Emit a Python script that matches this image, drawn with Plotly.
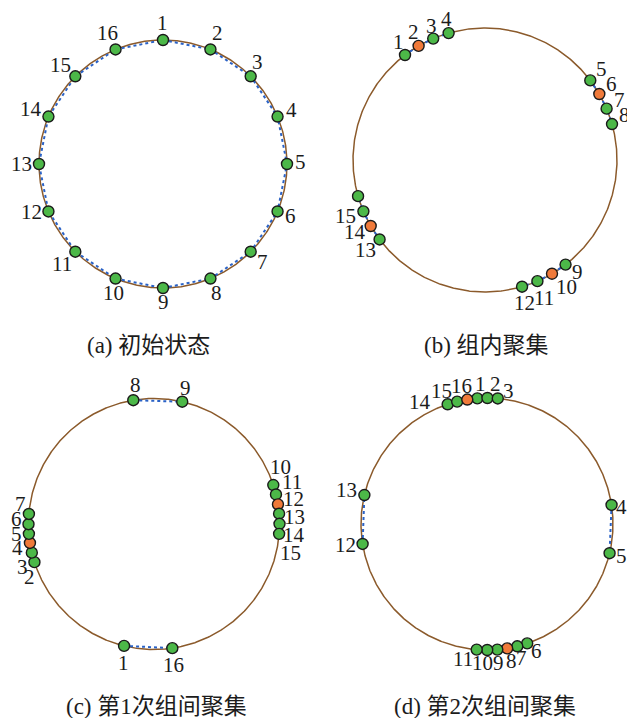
import numpy as np
import plotly.graph_objects as go

# ---- data -------------------------------------------------------------
# node ids 1..16; angles in degrees, clockwise from the top of the ring
NODE_IDS = list(range(1, 17))

ANGLES_A = [0, 22.5, 45, 67.5, 90, 112.5, 135, 157.5,
            180, 202.5, 225, 247.5, 270, 292.5, 315, 337.5]
ANGLES_B = [322.7, 329.8, 336.9, 344.0, 52.9, 60.0, 67.1, 74.2,
            142.4, 149.5, 156.6, 163.7, 233.0, 240.0, 247.1, 254.1]
ANGLES_C = [193.8, 252.3, 256.8, 261.3, 265.5, 269.9, 274.6, 350.5,
            13.0, 71.9, 76.4, 81.0, 85.3, 89.9, 94.5, 171.6]
ANGLES_D = [355.6, 0.2, 4.9, 81.3, 103.4, 161.4, 166.1, 170.8,
            175.3, 179.9, 184.7, 260.9, 283.3, 341.8, 346.3, 351.0]

# highlighted (group head) nodes
HEADS_A = []
HEADS_B = [2, 6, 10, 14]
HEADS_C = [4, 12]
HEADS_D = [8, 16]

# node chains joined by links
CHAINS_A = [[1, 2, 3, 4, 5, 6, 7, 8, 9, 10, 11, 12, 13, 14, 15, 16, 1]]
CHAINS_B = [[1, 2, 3, 4], [5, 6, 7, 8], [9, 10, 11, 12], [13, 14, 15, 16]]
CHAINS_C = [[8, 9], [10, 11, 12, 13, 14, 15], [2, 3, 4, 5, 6, 7], [1, 16]]
CHAINS_D = [[14, 15, 16, 1, 2, 3], [12, 13], [4, 5], [6, 7, 8, 9, 10, 11]]

# node labels (node 16 is left unlabelled in panel b)
LABELS_A = [str(i) for i in NODE_IDS]
LABELS_B = [str(i) for i in NODE_IDS[:15]] + [""]
LABELS_C = [str(i) for i in NODE_IDS]
LABELS_D = [str(i) for i in NODE_IDS]

CAPTIONS = ["(a) 初始状态", "(b) 组内聚集", "(c) 第1次组间聚集", "(d) 第2次组间聚集"]

# ---- layout -----------------------------------------------------------
W, H = 627, 718
K = 1.04  # axis half-range in ring radii

# ring centre / radius in pixels, caption centre in pixels
PANELS = [
    dict(cx=163, cy=164, r=124, cap=(148, 345)),
    dict(cx=485, cy=160, r=132, cap=(486, 345)),
    dict(cx=154, cy=524, r=125.5, cap=(156, 706)),
    dict(cx=487, cy=524, r=126, cap=(485, 706)),
]

# label offsets from each node, pixels (dx right, dy down)
NUDGE = [
    [(-1, -17), (7, -16), (7, -14), (14, -7), (13, -2), (13, 5), (12, 10), (6, 14),
     (0, 14), (-2, 14), (-13, 12), (-17, 1), (-17, 0), (-17, -8), (-15, -11), (-8, -16)],
    [(-7, -13), (-5, -14), (-2, -13), (-2, -14), (11, -11), (12, -10), (13, -9), (12, -9),
     (12, 7), (14, 13), (7, 17), (2, 16), (-14, 11), (-16, 6), (-18, 5), (0, 0)],
    [(-1, 17), (-5, 15), (-9, 14), (-12, 5), (-12, 0), (-12, -5), (-8, -10), (2, -15),
     (3, -14), (7, -18), (16, -12), (16, -5), (15, 3), (14, 11), (11, 19), (1, 17)],
    [(3, -14), (8, -14), (11, -7), (10, 2), (12, 3), (9, 8), (4, 12), (4, 13),
     (1, 13), (-5, 13), (-14, 9), (-17, 1), (-18, -5), (-28, -2), (-16, -11), (-6, -14)],
]

RING_COLOR = "#8b5a2b"
LINK_COLOR = "#2a62c6"
NODE_COLOR = "#4cb848"
HEAD_COLOR = "#f07a3a"
EDGE_COLOR = "#1a1a1a"
TEXT_COLOR = "#1c1c1c"
SERIF = "'Liberation Serif', 'Times New Roman', 'Noto Sans CJK SC', serif"

panel_data = [
    (ANGLES_A, HEADS_A, CHAINS_A, LABELS_A),
    (ANGLES_B, HEADS_B, CHAINS_B, LABELS_B),
    (ANGLES_C, HEADS_C, CHAINS_C, LABELS_C),
    (ANGLES_D, HEADS_D, CHAINS_D, LABELS_D),
]

fig = go.Figure()
annotations = []
layout_axes = {}

ring_t = np.linspace(0, 2 * np.pi, 721)

for k, ((angles, heads, chains, labels), pan) in enumerate(zip(panel_data, PANELS)):
    n = "" if k == 0 else str(k + 1)
    xa, ya = "x" + n, "y" + n
    cx, cy, r = pan["cx"], pan["cy"], pan["r"]
    layout_axes["xaxis" + n] = dict(
        domain=[(cx - K * r) / W, (cx + K * r) / W], range=[-K, K],
        visible=False, fixedrange=True, anchor=ya)
    layout_axes["yaxis" + n] = dict(
        domain=[(H - cy - K * r) / H, (H - cy + K * r) / H], range=[-K, K],
        visible=False, fixedrange=True, anchor=xa)

    rad = np.deg2rad(np.array(angles, dtype=float))
    px, py = np.sin(rad), np.cos(rad)
    pos = {i: (px[j], py[j]) for j, i in enumerate(NODE_IDS)}

    # ring
    fig.add_trace(go.Scatter(x=np.sin(ring_t), y=np.cos(ring_t), mode="lines",
                             line=dict(color=RING_COLOR, width=1.5),
                             hoverinfo="skip", xaxis=xa, yaxis=ya))
    # links
    lx, ly = [], []
    for ch in chains:
        lx += [pos[i][0] for i in ch] + [None]
        ly += [pos[i][1] for i in ch] + [None]
    fig.add_trace(go.Scatter(x=lx, y=ly, mode="lines",
                             line=dict(color=LINK_COLOR, width=2, dash="dot"),
                             hoverinfo="skip", xaxis=xa, yaxis=ya, cliponaxis=False))
    # nodes
    colors = [HEAD_COLOR if i in heads else NODE_COLOR for i in NODE_IDS]
    fig.add_trace(go.Scatter(x=px, y=py, mode="markers",
                             marker=dict(size=11, color=colors,
                                         line=dict(color=EDGE_COLOR, width=1.4)),
                             xaxis=xa, yaxis=ya, cliponaxis=False,
                             text=labels, hoverinfo="text"))
    # labels
    for j, i in enumerate(NODE_IDS):
        if not labels[j]:
            continue
        dx, dy = NUDGE[k][j]
        annotations.append(dict(x=px[j], y=py[j], xref=xa, yref=ya,
                                text=labels[j], showarrow=False,
                                xshift=dx, yshift=-dy,
                                font=dict(family=SERIF, size=21, color=TEXT_COLOR)))
    # caption
    annotations.append(dict(x=pan["cap"][0] / W, y=1 - pan["cap"][1] / H,
                            xref="paper", yref="paper", text=CAPTIONS[k],
                            showarrow=False, xanchor="center", yanchor="middle",
                            font=dict(family=SERIF, size=23, color=TEXT_COLOR)))

fig.update_layout(
    width=W, height=H,
    margin=dict(l=0, r=0, t=0, b=0),
    paper_bgcolor="white", plot_bgcolor="rgba(0,0,0,0)",
    showlegend=False,
    annotations=annotations,
    **layout_axes,
)

fig.write_html("out.html", config={"displayModeBar": False})
